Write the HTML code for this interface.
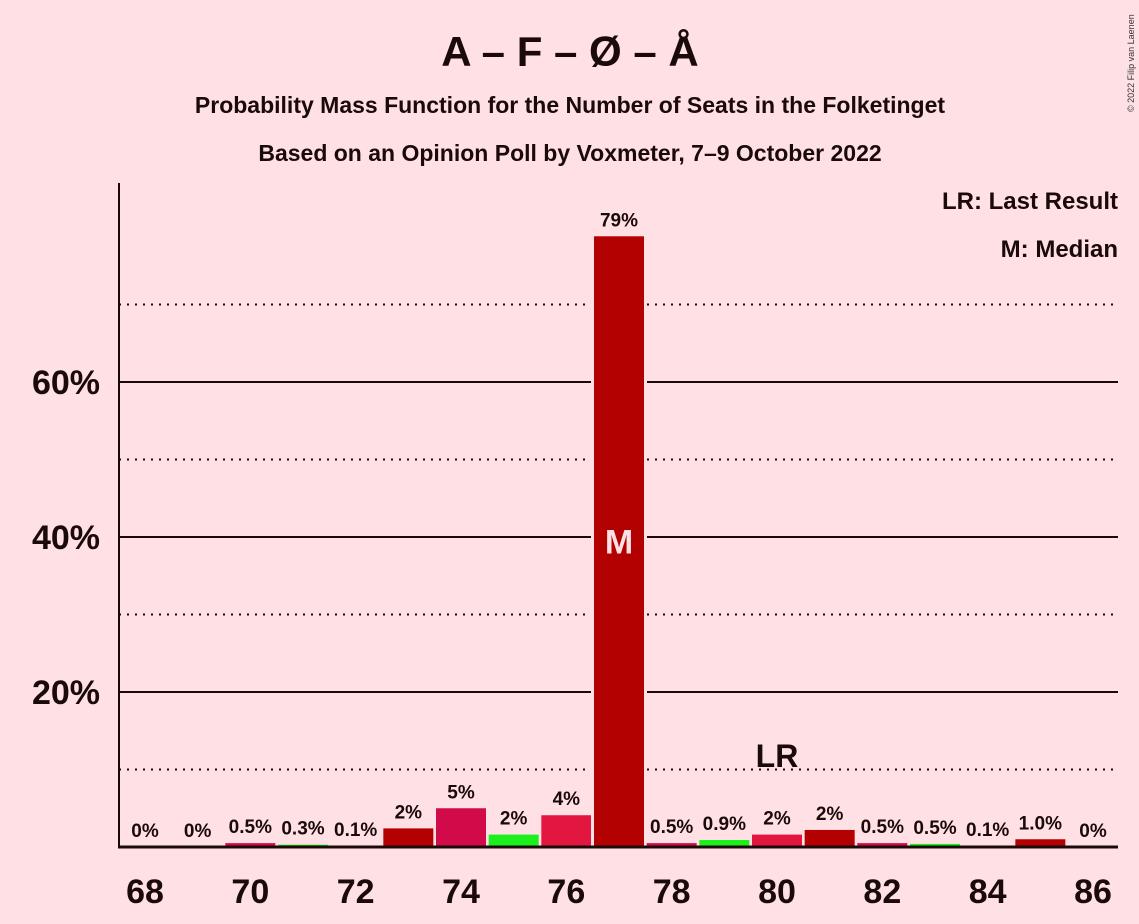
<!DOCTYPE html>
<html><head><meta charset="utf-8"><style>
body{margin:0;background:#FFE0E5;}
svg{display:block;font-family:"Liberation Sans",sans-serif;font-weight:bold;}
</style></head><body>
<svg id="c" width="1139" height="924" viewBox="0 0 1139 924">
<rect width="1139" height="924" fill="#FFE0E5"/>
<text x="570" y="66" text-anchor="middle" font-size="42" fill="#1a0a0a">A – F – Ø – Å</text>
<text x="570" y="113" text-anchor="middle" font-size="23" fill="#1a0a0a">Probability Mass Function for the Number of Seats in the Folketinget</text>
<text x="570" y="161" text-anchor="middle" font-size="23" fill="#1a0a0a">Based on an Opinion Poll by Voxmeter, 7–9 October 2022</text>
<text x="1118" y="209" text-anchor="end" font-size="24" fill="#1a0a0a">LR: Last Result</text>
<text x="1118" y="257" text-anchor="end" font-size="24" fill="#1a0a0a">M: Median</text>
<text transform="translate(1134,112) rotate(-90)" font-size="9" font-weight="normal" fill="#333">© 2022 Filip van Laenen</text>
<g id="grid"></g><g id="bars"></g><g id="axes"></g>
</svg>
<script>
const seats=[68,69,70,71,72,73,74,75,76,77,78,79,80,81,82,83,84,85,86];
const probs=[0,0,0.5,0.3,0.1,2.4,5.0,1.6,4.1,78.8,0.5,0.9,1.6,2.2,0.5,0.4,0.1,1.0,0];
const labels=["0%","0%","0.5%","0.3%","0.1%","2%","5%","2%","4%","79%","0.5%","0.9%","2%","2%","0.5%","0.5%","0.1%","1.0%","0%"];
const yTicks=[20,40,60];
const yMinor=[10,30,50,70];
const xTicks=[68,70,72,74,76,78,80,82,84,86];
const medianSeat=77, lastResult=80;
const colors=["#B30000","#D10A4A","#1CF01C","#E31640"];
const NS="http://www.w3.org/2000/svg";
const x=s=>145+(s-68)*(1093-145)/18;
const y=v=>847-v*7.75;
function mk(t,a,p){const e=document.createElementNS(NS,t);for(const k in a)e.setAttribute(k,a[k]);p.appendChild(e);return e;}
const grid=document.getElementById('grid'),bars=document.getElementById('bars'),axes=document.getElementById('axes');
yMinor.forEach(v=>{const l=mk('line',{x1:119,x2:1118,y1:y(v),y2:y(v),stroke:'#1a0a0a','stroke-width':2,'stroke-dasharray':'2,6'},grid);

});
yTicks.forEach(v=>{const l=mk('line',{x1:119,x2:1118,y1:y(v),y2:y(v),stroke:'#1a0a0a','stroke-width':2},grid);


const t=mk('text',{x:100,y:y(v)+12,'text-anchor':'end','font-size':34,fill:'#1a0a0a'},axes);t.textContent=v+'%';

});
seats.forEach((s,i)=>{const p=probs[i];const cx=x(s);
if(p>10){const g=mk('rect',{x:cx-28,y:y(p),width:56,height:847-y(p),fill:'#FFE0E5'},bars);

}
if(p>0){const r=mk('rect',{x:cx-25,y:y(p),width:50,height:847-y(p),fill:colors[(s-69+400)%4]},bars);

}
const t=mk('text',{x:cx,y:y(p)-10,'text-anchor':'middle','font-size':19,fill:'#1a0a0a'},bars);t.textContent=labels[i];


if(s===medianSeat){const m=mk('text',{x:cx,y:y(p/2)+12,'text-anchor':'middle','font-size':34,fill:'#FFE0E5'},bars);m.textContent='M';

}
if(s===lastResult){const m=mk('text',{x:cx,y:767,'text-anchor':'middle','font-size':32,fill:'#1a0a0a'},bars);m.textContent='LR';

}
});
xTicks.forEach(s=>{const t=mk('text',{x:x(s),y:903,'text-anchor':'middle','font-size':34,fill:'#1a0a0a'},axes);t.textContent=s;

});
const ya=mk('line',{x1:119,x2:119,y1:183,y2:848,stroke:'#1a0a0a','stroke-width':2},axes);


const xa=mk('line',{x1:118,x2:1118,y1:847,y2:847,stroke:'#1a0a0a','stroke-width':3},axes);


</script>
</body></html>
